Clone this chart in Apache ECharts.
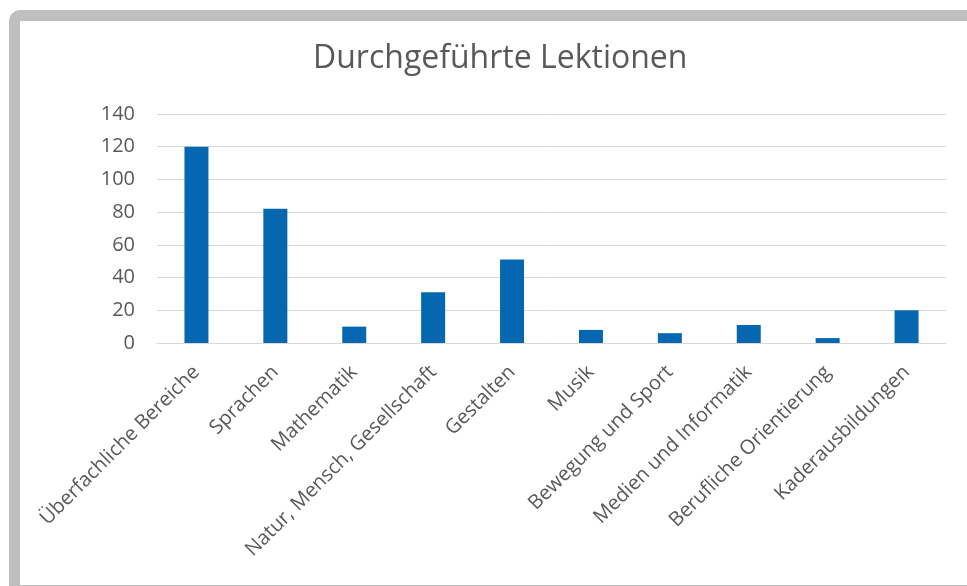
<!DOCTYPE html>
<html>
<head>
<meta charset="utf-8">
<script src="https://cdn.jsdelivr.net/npm/echarts@6/dist/echarts.min.js"></script>
<style>
html,body{margin:0;padding:0;background:#fff;}
#chart{width:967px;height:586px;}
</style>
</head>
<body>
<div id="chart"></div>
<script>
const title = 'Durchgeführte Lektionen';
const categories = ['Überfachliche Bereiche','Sprachen','Mathematik','Natur, Mensch, Gesellschaft','Gestalten','Musik','Bewegung und Sport','Medien und Informatik','Berufliche Orientierung','Kaderausbildungen'];
const values = [120, 82, 10, 31, 51, 8, 6, 11, 3, 20];
const yTicks = {min: 0, max: 140, interval: 20};

const chart = echarts.init(document.getElementById('chart'), null, {renderer: 'canvas'});
const font = '"Open Sans", "Noto Sans", sans-serif';
chart.setOption({
  animation: false,
  backgroundColor: '#ffffff',
  graphic: [{
    type: 'rect',
    z: -10,
    shape: {x: 14.5, y: 15.5, width: 1100, height: 575, r: 6},
    style: {fill: 'none', stroke: '#bfbfbf', lineWidth: 11}
  }],
  title: {
    text: title,
    left: 308,
    top: 38,
    textStyle: {fontFamily: font, fontSize: 32, fontWeight: 'normal', color: '#595959'}
  },
  grid: {left: 157, right: 21, top: 114, bottom: 243},
  xAxis: {
    type: 'category',
    data: categories,
    axisLine: {show: true, lineStyle: {color: '#d9d9d9', width: 1}},
    axisTick: {show: false},
    axisLabel: {rotate: 45, interval: 0, margin: 26, fontFamily: font, fontSize: 20, color: '#595959'}
  },
  yAxis: {
    type: 'value',
    min: yTicks.min, max: yTicks.max, interval: yTicks.interval,
    axisLine: {show: false},
    axisTick: {show: false},
    splitLine: {lineStyle: {color: '#d9d9d9', width: 1}},
    axisLabel: {margin: 22, fontFamily: font, fontSize: 20, color: '#595959'}
  },
  series: [{
    type: 'bar',
    data: values,
    barWidth: 24,
    itemStyle: {color: '#0467b0'}
  }]
});
</script>
</body>
</html>
